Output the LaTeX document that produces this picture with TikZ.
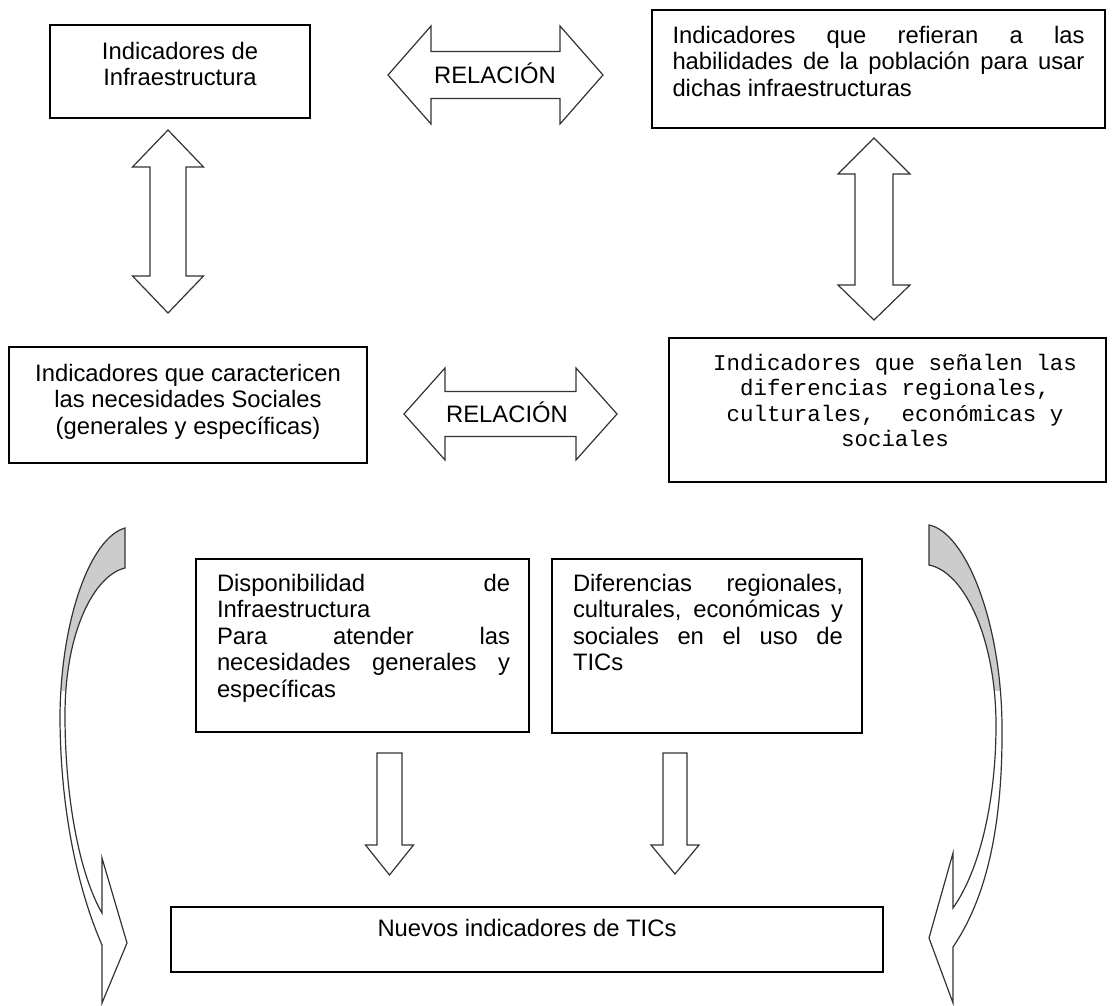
\documentclass[tikz,border=0pt]{standalone}
\usepackage{fontspec}
\setmainfont{Liberation Sans}
\newfontfamily\courierfont{Liberation Mono}
\usetikzlibrary{positioning}
\tolerance=10000 \hbadness=10000 \hyphenpenalty=10000 \exhyphenpenalty=10000

\tikzset{
  caja/.style={draw=black, line width=1.3pt, rectangle, inner sep=0pt},
  texto/.style={inner sep=0pt, font=\fontsize{23.8}{26.5}\selectfont},
  mono/.style={inner sep=0pt, align=center, font=\courierfont\fontsize{22.45}{25.5}\selectfont},
  flecha/.style={draw=black!80, line width=1.2pt, fill=white, line join=miter},
  contorno/.style={draw=black!80, line width=1.2pt, line join=miter},
}

\begin{document}
\begin{tikzpicture}[x=1pt,y=-1pt]
\useasboundingbox (0,0) rectangle (1112,1005);

% cajas
\node[caja, minimum width=260pt, minimum height=93pt] (infra) at (180,71.5) {};
\node[caja, minimum width=453pt, minimum height=118pt] (habil) at (878.5,69) {};
\node[caja, minimum width=358pt, minimum height=116pt] (necesid) at (188,405) {};
\node[caja, minimum width=437pt, minimum height=144pt] (difreg) at (887.5,410) {};
\node[caja, minimum width=333pt, minimum height=173pt] (dispon) at (362.5,645.5) {};
\node[caja, minimum width=310pt, minimum height=174pt] (diftic) at (707,646) {};
\node[caja, minimum width=712pt, minimum height=65pt] (nuevos) at (527,939.5) {};

% textos
\node[texto, align=center, below=17.6pt of infra.north] (infra-t) {Indicadores de\\Infraestructura};
\node[texto, text width=412pt, align=justify, below=16.6pt of habil.north] (habil-t)
  {Indicadores que refieran a las\linebreak habilidades de la población para usar\linebreak dichas infraestructuras};
\node[texto, align=center, below=17.6pt of necesid.north] (necesid-t)
  {Indicadores que caractericen\\las necesidades Sociales\\(generales y específicas)};
\node[mono, below=16.5pt of difreg.north, xshift=7.5pt] (difreg-t)
  {Indicadores que señalen las\\diferencias regionales,\\culturales,\ \ económicas y\\sociales};
\node[texto, text width=293pt, align=justify, below=15.6pt of dispon.north, xshift=1pt] (dispon-t)
  {Disponibilidad de\linebreak Infraestructura\\Para atender las\linebreak necesidades generales y\linebreak específicas};
\node[texto, text width=270pt, align=justify, below=15.6pt of diftic.north, xshift=1pt] (diftic-t)
  {Diferencias regionales,\linebreak culturales, económicas y\linebreak sociales en el uso de\linebreak TICs};
\node[texto, below=12.6pt of nuevos.north] (nuevos-t) {Nuevos indicadores de TICs};

% flechas de relacion
\draw[flecha] (388,75) -- (431,26) -- (431,51.5) -- (560,51.5) -- (560,26) -- (603,75)
  -- (560,124) -- (560,98.5) -- (431,98.5) -- (431,124) -- cycle;
\node[texto, anchor=base] (rel1) at (495,83.4) {RELACIÓN};
\draw[flecha] (404,414) -- (445,368) -- (445,391.5) -- (576,391.5) -- (576,368) -- (617,414)
  -- (576,460) -- (576,436.5) -- (445,436.5) -- (445,460) -- cycle;
\node[texto, anchor=base] (rel2) at (507,422.4) {RELACIÓN};

% flechas verticales
\draw[flecha] (168,130) -- (203.5,167) -- (186,167) -- (186,276) -- (203.5,276) -- (168,313)
  -- (132.5,276) -- (150,276) -- (150,167) -- (132.5,167) -- cycle;
\draw[flecha] (874,138) -- (910,174) -- (893,174) -- (893,285) -- (910,285) -- (874,320)
  -- (838,285) -- (855,285) -- (855,174) -- (838,174) -- cycle;
\draw[flecha] (377,753) -- (402,753) -- (402,845) -- (413.5,845) -- (389.5,875)
  -- (365.5,845) -- (377,845) -- cycle;
\draw[flecha] (663,753) -- (687,753) -- (687,845) -- (699,845) -- (675,874)
  -- (651,845) -- (663,845) -- cycle;

% flechas curvas: banda completa, parte de arriba en gris
\path[save path=\bandaizq] (125,528) .. controls (90,538) and (61,620) .. (60,715)
  .. controls (60,810) and (78,890) .. (102,945) -- (102,1003) -- (127,943)
  -- (102,858) -- (102,913) .. controls (80,875) and (65,800) .. (65,715)
  .. controls (65,630) and (95,575) .. (125,568) -- cycle;
\path[save path=\bandader] (929,525) .. controls (965,532) and (1001,620) .. (1002,725)
  .. controls (1003,830) and (985,900) .. (953,947) -- (953,1003) -- (929,938)
  -- (953,853) -- (953,908) .. controls (980,870) and (996,800) .. (996,725)
  .. controls (996,640) and (965,572) .. (929,565) -- cycle;
\begin{scope}
  \clip (0,0) rectangle (1112,690);
  \path[use path=\bandaizq, fill=black!20];
  \path[use path=\bandader, fill=black!20];
\end{scope}
\path[use path=\bandaizq, contorno];
\path[use path=\bandader, contorno];
\end{tikzpicture}
\end{document}
